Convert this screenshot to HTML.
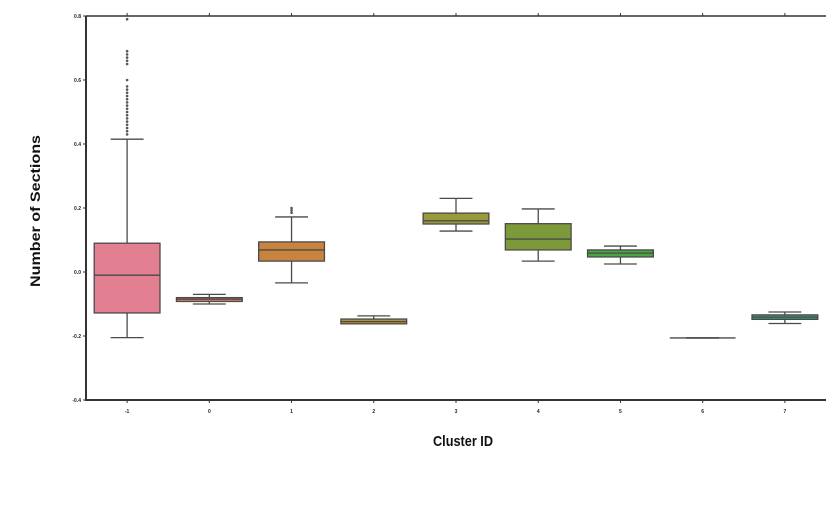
<!DOCTYPE html>
<html><head><meta charset="utf-8"><style>
html,body{margin:0;padding:0;background:#fff;}
svg{display:block;font-family:"Liberation Sans",sans-serif;}
</style></head><body>
<svg id="chart" width="829" height="510"></svg>
<script>
const categories=["-1","0","1","2","3","4","5","6","7"];
const whiskerLow=[-0.205,-0.100,-0.034,-0.160,0.128,0.034,0.025,-0.206,-0.161];
const q1Values=[-0.128,-0.092,0.034,-0.162,0.150,0.069,0.047,-0.206,-0.148];
const medianValues=[-0.010,-0.085,0.069,-0.155,0.160,0.103,0.059,-0.206,-0.141];
const q3Values=[0.090,-0.080,0.094,-0.147,0.184,0.151,0.069,-0.206,-0.134];
const whiskerHigh=[0.415,-0.070,0.172,-0.137,0.230,0.197,0.081,-0.206,-0.125];
const colors=["#e27f91","#e8836a","#c8843e","#b39334","#9a9a3a","#7d9a3a","#4aa543","#808080","#3a9a78"];
const outliers=[[0.43,0.44,0.45,0.46,0.47,0.48,0.49,0.50,0.51,0.52,0.53,0.54,0.55,0.56,0.57,0.58,0.60,0.65,0.66,0.67,0.68,0.69,0.79],[],[0.185,0.193,0.2],[],[],[],[],[],[]];
const yTicks=[0.8,0.6,0.4,0.2,0.0,-0.2,-0.4];
const yTickLabels=["0.8","0.6","0.4","0.2","0.0","-0.2","-0.4"];

const L=86,R=826,T=16,B=400,yMin=-0.4,yMax=0.8;
const y=v=>B-(v-yMin)/(yMax-yMin)*(B-T);
const band=(R-L)/categories.length;
const x=i=>L+band*(i+0.5);
const NS="http://www.w3.org/2000/svg";
const svg=document.getElementById('chart');
function mk(tag,attrs,parent){const e=document.createElementNS(NS,tag);for(const k in attrs)e.setAttribute(k,attrs[k]);(parent||svg).appendChild(e);return e;}

const ax=mk('g',{});


mk('path',{d:`M${L},${T}V${B}H${R}`,stroke:"#333",'stroke-width':2,fill:"none"},ax);
mk('line',{x1:L,y1:T,x2:R,y2:T,stroke:"#333",'stroke-width':1.5},ax);
yTicks.forEach((v,i)=>{
  mk('line',{x1:L-3,x2:L,y1:y(v),y2:y(v),stroke:"#333"},ax);
  const t=mk('text',{x:L-5,y:y(v)+2,'font-size':5,'text-anchor':'end','font-weight':'bold',fill:"#222"},ax);
  t.textContent=yTickLabels[i];
  
  
});
categories.forEach((c,i)=>{
  mk('line',{x1:x(i),x2:x(i),y1:B,y2:B+3,stroke:"#333"},ax);
  mk('line',{x1:x(i),x2:x(i),y1:T-3,y2:T,stroke:"#333"},ax);
  const t=mk('text',{x:x(i),y:B+13,'font-size':5,'text-anchor':'middle','font-weight':'bold',fill:"#222"},ax);
  t.textContent=c;
  
  
});
const yl=mk('text',{x:0,y:0,'font-size':14,'font-weight':'bold','text-anchor':'middle',textLength:152,lengthAdjust:'spacingAndGlyphs',transform:'translate(40,211) rotate(-90)',fill:"#111"});
yl.textContent="Number of Sections";


const xl=mk('text',{x:463,y:446,'font-size':15,'font-weight':'bold','text-anchor':'middle',textLength:60,lengthAdjust:'spacingAndGlyphs',fill:"#111"});
xl.textContent="Cluster ID";



const bw=band*0.8;
categories.forEach((c,i)=>{
  const g=mk('g',{});
  
  
  const cx=x(i),st="#4a4a4a";
  mk('line',{x1:cx,x2:cx,y1:y(whiskerHigh[i]),y2:y(q3Values[i]),stroke:st,'stroke-width':1.3},g);
  mk('line',{x1:cx,x2:cx,y1:y(q1Values[i]),y2:y(whiskerLow[i]),stroke:st,'stroke-width':1.3},g);
  mk('line',{x1:cx-bw/4,x2:cx+bw/4,y1:y(whiskerHigh[i]),y2:y(whiskerHigh[i]),stroke:st,'stroke-width':1.3},g);
  mk('line',{x1:cx-bw/4,x2:cx+bw/4,y1:y(whiskerLow[i]),y2:y(whiskerLow[i]),stroke:st,'stroke-width':1.3},g);
  const h=Math.max(y(q1Values[i])-y(q3Values[i]),0);
  if(h>0){
    mk('rect',{x:cx-bw/2,y:y(q3Values[i]),width:bw,height:h,fill:colors[i],stroke:st,'stroke-width':1.3},g);
  }
  mk('line',{x1:cx-bw/2,x2:cx+bw/2,y1:y(medianValues[i]),y2:y(medianValues[i]),stroke:st,'stroke-width':1.3},g);
  outliers[i].forEach(v=>{
    const d=mk('circle',{cx:cx,cy:y(v),r:1.3,fill:"#555"},g);
    
    
  });
});
</script>
</body></html>
